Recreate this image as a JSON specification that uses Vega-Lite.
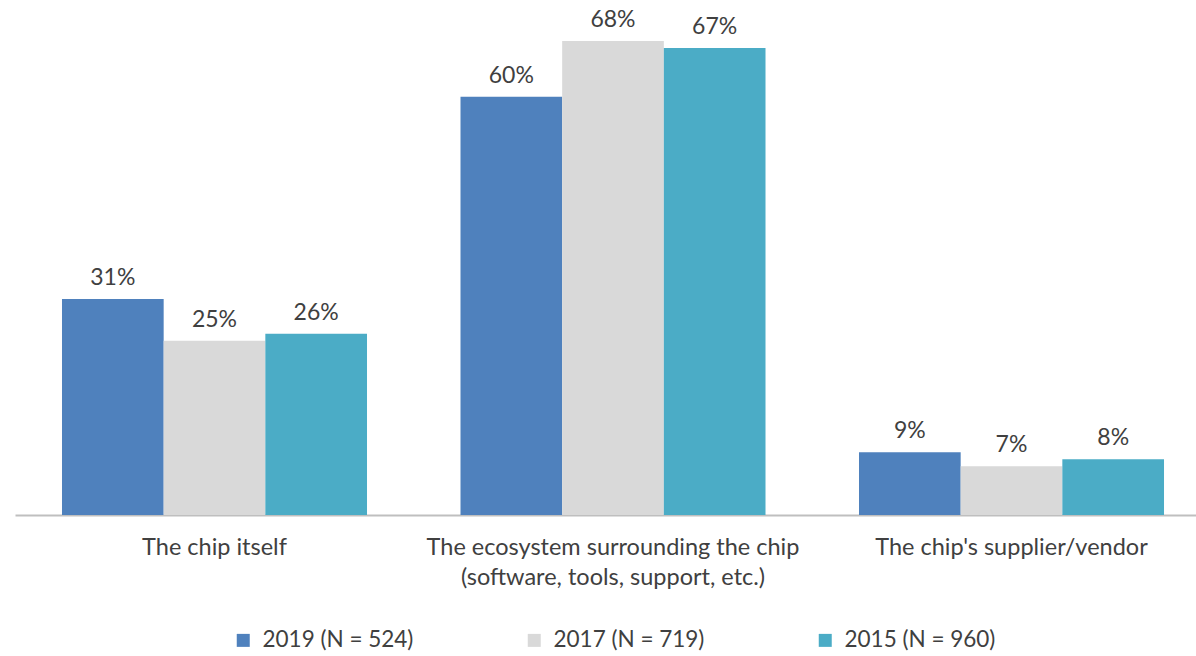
{
  "$schema": "https://vega.github.io/schema/vega-lite/v6.json",
  "width": 1181,
  "height": 515,
  "autosize": "none",
  "padding": {"left": 15, "top": 0, "right": 0, "bottom": 141},
  "background": "white",
  "config": {"view": {"stroke": null}, "font": "Lato"},
  "data": {
    "values": [
      {"category": "The chip itself", "year": "2019 (N = 524)", "value": 0.31},
      {"category": "The chip itself", "year": "2017 (N = 719)", "value": 0.25},
      {"category": "The chip itself", "year": "2015 (N = 960)", "value": 0.26},
      {"category": "The ecosystem surrounding the chip|(software, tools, support, etc.)", "year": "2019 (N = 524)", "value": 0.60},
      {"category": "The ecosystem surrounding the chip|(software, tools, support, etc.)", "year": "2017 (N = 719)", "value": 0.68},
      {"category": "The ecosystem surrounding the chip|(software, tools, support, etc.)", "year": "2015 (N = 960)", "value": 0.67},
      {"category": "The chip's supplier/vendor", "year": "2019 (N = 524)", "value": 0.09},
      {"category": "The chip's supplier/vendor", "year": "2017 (N = 719)", "value": 0.07},
      {"category": "The chip's supplier/vendor", "year": "2015 (N = 960)", "value": 0.08}
    ]
  },
  "encoding": {
    "x": {
      "field": "category", "type": "nominal", "sort": null,
      "scale": {"paddingInner": 0.2346, "paddingOuter": 0.0991, "align": 0.595},
      "axis": {
        "title": null, "labelAngle": 0, "ticks": false,
        "domainColor": "#BFBFBF", "domainWidth": 2,
        "labelFont": "Lato", "labelFontSize": 23.5, "labelColor": "#404040",
        "labelPadding": 20, "labelLineHeight": 30, "labelLimit": 0,
        "labelExpr": "split(datum.label, '|')"
      }
    },
    "xOffset": {
      "field": "year", "type": "nominal", "sort": null,
      "scale": {"paddingInner": 0, "paddingOuter": 0}
    },
    "y": {
      "field": "value", "type": "quantitative",
      "scale": {"domain": [0, 0.739], "nice": false},
      "axis": null
    }
  },
  "layer": [
    {
      "mark": {"type": "bar"},
      "encoding": {
        "color": {
          "field": "year", "type": "nominal", "sort": null,
          "scale": {"domain": ["2019 (N = 524)", "2017 (N = 719)", "2015 (N = 960)"], "range": ["#4F81BD", "#D9D9D9", "#4BACC6"]},
          "legend": {
            "title": null, "orient": "none", "legendX": 217, "legendY": 629,
            "direction": "horizontal", "columns": 3,
            "symbolType": "square", "symbolSize": 169, "symbolStrokeWidth": 0,
            "labelFont": "Lato", "labelFontSize": 22.5, "labelColor": "#404040",
            "columnPadding": 109, "labelOffset": 8
          }
        }
      }
    },
    {
      "mark": {"type": "text", "baseline": "bottom", "dy": -9, "font": "Lato", "fontSize": 23, "color": "#404040"},
      "encoding": {
        "text": {"field": "value", "type": "quantitative", "format": ".0%"},
        "detail": {"field": "year"}
      }
    }
  ]
}
